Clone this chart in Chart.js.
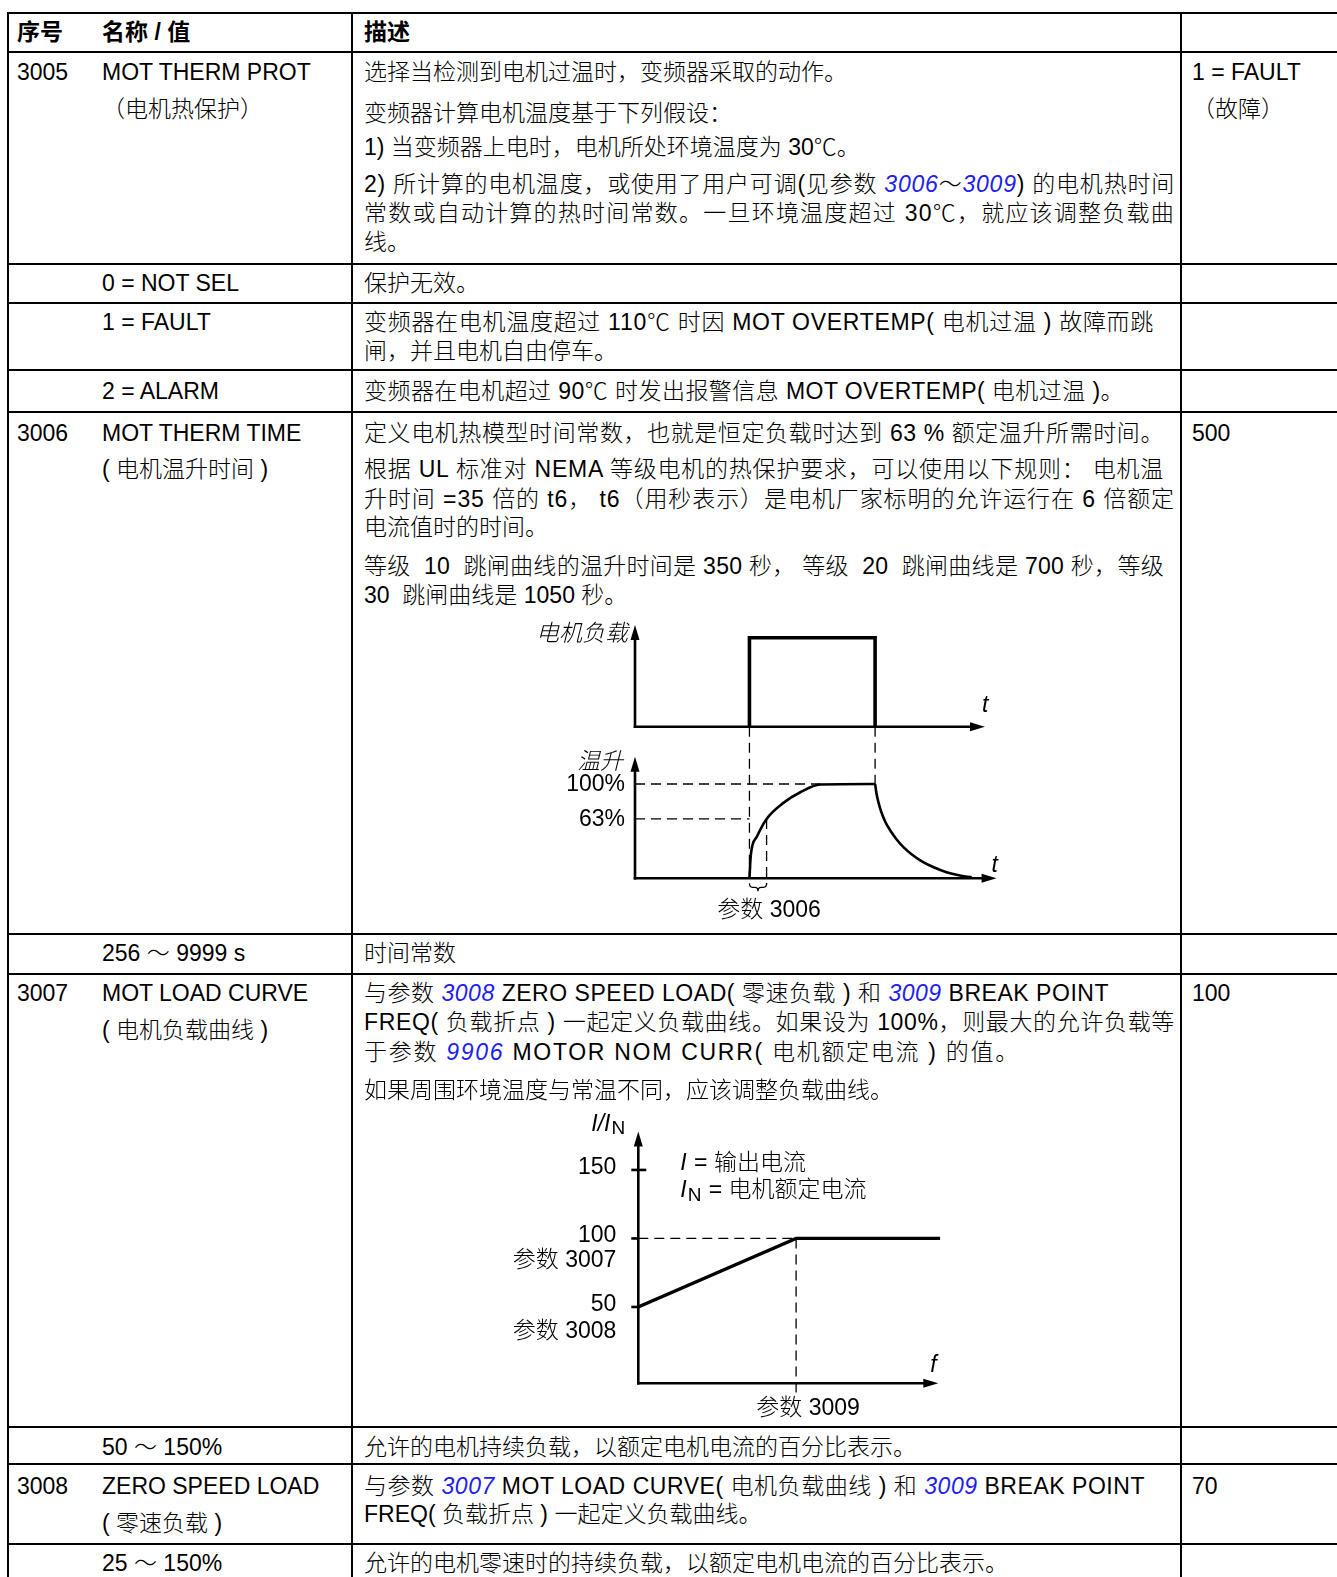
<!DOCTYPE html>
<html>
<head>
<meta charset="utf-8">
<script src="https://cdn.jsdelivr.net/npm/chart.js@4.4.0/dist/chart.umd.min.js"></script>
<style>
  body {
    margin: 0;
    background: #fff;
    width: 1337px;
    height: 1577px;
    overflow: hidden;
    position: relative;
    font-family: "Liberation Sans", Arial, "Noto Sans CJK SC", sans-serif;
    font-size: 23px;
    font-weight: 300;
    color: #000;
  }
  .t { position: absolute; white-space: pre; line-height: 30px; height: 30px; }
  .b { font-weight: bold; }
  .lk { color: #2020f0; font-style: italic; }
  .h { position: absolute; left: 7px; right: 0; height: 2px; background: #000; }
  .v { position: absolute; top: 12px; bottom: 0; width: 2px; background: #000; }
  canvas { position: absolute; }
</style>
</head>
<body>
<canvas id="thermChart" width="520" height="310" style="left:500px;top:612px"></canvas>
<canvas id="loadChart" width="470" height="320" style="left:490px;top:1100px"></canvas>
<script>
// Diagram 3006: motor load step and temperature rise
const loadT = [32.7, 32.7, 68.6, 68.6];
const loadLevel = [0, 1, 1, 0];
const riseT = [32.7, 33.1, 34.8, 37.6, 42.4, 47.1, 52.9, 68.6];
const riseTemp = [0, 25, 44, 63, 80, 91, 99.5, 100];
const fallT = [68.6, 69.0, 69.6, 70.4, 71.5, 72.9, 74.6, 76.7, 79.2, 82.2, 85.5, 89.0, 92.5, 96.2];
const fallTemp = [100, 90, 80, 70, 60, 51, 42, 33, 25, 17.5, 11.5, 6.5, 3.2, 1];
const tempTicks = [63, 100];
const tauT = 37.6;

// Diagram 3007: load curve
const curveF = [0, 52.6, 100.6];
const curveI = [50, 100, 100];
const currentTicks = [50, 100, 150];
const breakF = 52.6;

const FONT = '"Liberation Sans", Arial, "Noto Sans CJK SC", sans-serif';

// table text lines: x, centre y, html, justified width
const X1 = 17, X2 = 102, X3 = 364, X4 = 1192;
const lines = [
  [X1, 32, '序号', 0, 'b'],
  [X2, 32, '名称 / 值', 0, 'b'],
  [X3, 32, '描述', 0, 'b'],
  [X1, 72, '3005'],
  [X2, 72, 'MOT THERM PROT'],
  [X2, 109, '（电机热保护）'],
  [X3, 72, '选择当检测到电机过温时，变频器采取的动作。'],
  [X3, 113, '变频器计算电机温度基于下列假设：'],
  [X3, 147, '1) 当变频器上电时，电机所处环境温度为 30℃。'],
  [X3, 184, '2) 所计算的电机温度，或使用了用户可调(见参数 <i class="lk">3006</i>～<i class="lk">3009</i>) 的电机热时间', 811],
  [X3, 213, '常数或自动计算的热时间常数。一旦环境温度超过 30℃，就应该调整负载曲', 811],
  [X3, 242, '线。'],
  [X4, 72, '1 = FAULT'],
  [X4, 109, '（故障）'],
  [X2, 283, '0 = NOT SEL'],
  [X3, 283, '保护无效。'],
  [X2, 322, '1 = FAULT'],
  [X3, 322, '变频器在电机温度超过 110℃ 时因 MOT OVERTEMP( 电机过温 ) 故障而跳', 790],
  [X3, 351, '闸，并且电机自由停车。'],
  [X2, 391, '2 = ALARM'],
  [X3, 391, '变频器在电机超过 90℃ 时发出报警信息 MOT OVERTEMP( 电机过温 )。', 760],
  [X1, 433, '3006'],
  [X2, 433, 'MOT THERM TIME'],
  [X2, 469, '( 电机温升时间 )'],
  [X4, 433, '500'],
  [X3, 433, '定义电机热模型时间常数，也就是恒定负载时达到 63 % 额定温升所需时间。', 800],
  [X3, 469, '根据 UL 标准对 NEMA 等级电机的热保护要求，可以使用以下规则： 电机温', 800],
  [X3, 499, '升时间 =35 倍的 t6， t6（用秒表示）是电机厂家标明的允许运行在 6 倍额定', 811],
  [X3, 527, '电流值时的时间。'],
  [X3, 566, '等级  10  跳闸曲线的温升时间是 350 秒， 等级  20  跳闸曲线是 700 秒，等级', 800],
  [X3, 595, '30  跳闸曲线是 1050 秒。'],
  [X2, 953, '256 ～ 9999 s'],
  [X3, 953, '时间常数'],
  [X1, 993, '3007'],
  [X2, 993, 'MOT LOAD CURVE'],
  [X2, 1030, '( 电机负载曲线 )'],
  [X4, 993, '100'],
  [X3, 993, '与参数 <i class="lk">3008</i> ZERO SPEED LOAD( 零速负载 ) 和 <i class="lk">3009</i> BREAK POINT', 745],
  [X3, 1022, 'FREQ( 负载折点 ) 一起定义负载曲线。如果设为 100%，则最大的允许负载等', 811],
  [X3, 1052, '于参数 <i class="lk">9906</i> MOTOR NOM CURR( 电机额定电流 ) 的值。', 656],
  [X3, 1090, '如果周围环境温度与常温不同，应该调整负载曲线。'],
  [X2, 1447, '50 ～ 150%'],
  [X3, 1447, '允许的电机持续负载，以额定电机电流的百分比表示。'],
  [X1, 1486, '3008'],
  [X2, 1486, 'ZERO SPEED LOAD'],
  [X2, 1523, '( 零速负载 )'],
  [X4, 1486, '70'],
  [X3, 1486, '与参数 <i class="lk">3007</i> MOT LOAD CURVE( 电机负载曲线 ) 和 <i class="lk">3009</i> BREAK POINT', 781],
  [X3, 1514, 'FREQ( 负载折点 ) 一起定义负载曲线。'],
  [X2, 1563, '25 ～ 150%'],
  [X3, 1563, '允许的电机零速时的持续负载，以额定电机电流的百分比表示。'],
];
const rulesY = [12.5, 52.3, 263.5, 303, 370, 411.5, 933.5, 974, 1426.7, 1464, 1544];
const rulesX = [8, 351.5, 1181];

rulesY.forEach((y) => {
  const d = document.createElement("div");
  d.className = "h";
  d.style.top = y - 1 + "px";
  document.body.appendChild(d);
});
rulesX.forEach((x) => {
  const d = document.createElement("div");
  d.className = "v";
  d.style.left = x - 1 + "px";
  document.body.appendChild(d);
});
lines.forEach(([x, y, html, w, cls]) => {
  const d = document.createElement("div");
  d.className = "t" + (cls ? " " + cls : "");
  d.style.left = x + "px";
  d.style.top = y - 15 + "px";
  d.innerHTML = html;
  document.body.appendChild(d);
  if (w) {
    // stretch the line to the justified width of the reference
    const nat = d.getBoundingClientRect().width;
    const n = [...d.textContent].length;
    d.style.letterSpacing = (w - nat) / n + "px";
  }
});

// small drawing helpers
function seg(ctx, x1, y1, x2, y2) {
  ctx.beginPath();
  ctx.moveTo(x1, y1);
  ctx.lineTo(x2, y2);
  ctx.stroke();
}
function arrowUp(ctx, x, y) {
  ctx.beginPath();
  ctx.moveTo(x, y);
  ctx.lineTo(x - 4.5, y + 15);
  ctx.lineTo(x + 4.5, y + 15);
  ctx.closePath();
  ctx.fill();
}
function arrowRight(ctx, x, y) {
  ctx.beginPath();
  ctx.moveTo(x, y);
  ctx.lineTo(x - 15, y - 4.5);
  ctx.lineTo(x - 15, y + 4.5);
  ctx.closePath();
  ctx.fill();
}
function label(ctx, text, x, y, align, style) {
  ctx.font = (style || "") + " 300 23px " + FONT;
  ctx.textAlign = align || "left";
  ctx.textBaseline = "middle";
  ctx.fillText(text, x, y);
  return ctx.measureText(text).width;
}
const pts = (xs, ys) => xs.map((x, i) => ({ x: x, y: ys[i] }));

// axes, guides and labels of the 3006 diagram
const thermAxes = {
  id: "thermAxes",
  beforeDatasetsDraw(chart) {
    const { ctx, scales: { x, yTemp, yLoad } } = chart;
    const x0 = x.getPixelForValue(0);
    const yl0 = yLoad.getPixelForValue(0);
    const yt0 = yTemp.getPixelForValue(0);
    ctx.save();
    ctx.strokeStyle = "#000";
    ctx.fillStyle = "#000";
    ctx.lineWidth = 2.6;
    const upTip = yLoad.getPixelForValue(1.143);
    seg(ctx, x0, yl0 + 1.3, x0, upTip + 10);
    arrowUp(ctx, x0, upTip);
    const upEnd = x.getPixelForValue(100);
    seg(ctx, x0 - 1.3, yl0, upEnd - 10, yl0);
    arrowRight(ctx, upEnd, yl0);
    const lowTip = yTemp.getPixelForValue(129);
    seg(ctx, x0, yt0 + 1.3, x0, lowTip + 10);
    arrowUp(ctx, x0, lowTip);
    const lowEnd = x.getPixelForValue(103.3);
    seg(ctx, x0 - 1.3, yt0, lowEnd - 10, yt0);
    arrowRight(ctx, lowEnd, yt0);

    // dashed guides
    ctx.lineWidth = 1.3;
    ctx.setLineDash([10, 6]);
    const xOn = x.getPixelForValue(loadT[0]);
    const xOff = x.getPixelForValue(loadT[3]);
    const xTau = x.getPixelForValue(tauT);
    const y100 = yTemp.getPixelForValue(100);
    const y63 = yTemp.getPixelForValue(63);
    seg(ctx, xOn, yl0, xOn, yt0);
    seg(ctx, xOff, yl0, xOff, y100);
    seg(ctx, x0, y100, x.getPixelForValue(53), y100);
    seg(ctx, x0, y63, xOn, y63);
    seg(ctx, xTau, y63, xTau, yt0 + 6);
    ctx.setLineDash([]);

    // brace under the time constant
    const ym = yt0 + 5;
    const xm = (xOn + xTau) / 2;
    ctx.beginPath();
    ctx.moveTo(xOn, ym);
    ctx.quadraticCurveTo(xOn, ym + 4, xOn + 3, ym + 4);
    ctx.lineTo(xm - 3, ym + 4);
    ctx.quadraticCurveTo(xm, ym + 4, xm, ym + 8);
    ctx.quadraticCurveTo(xm, ym + 4, xm + 3, ym + 4);
    ctx.lineTo(xTau - 3, ym + 4);
    ctx.quadraticCurveTo(xTau, ym + 4, xTau, ym);
    ctx.stroke();
    ctx.restore();
  },
  afterDraw(chart) {
    const { ctx, scales: { x, yTemp, yLoad } } = chart;
    const x0 = x.getPixelForValue(0);
    const yl0 = yLoad.getPixelForValue(0);
    const yt0 = yTemp.getPixelForValue(0);
    ctx.save();
    ctx.fillStyle = "#000";
    label(ctx, "电机负载", x0 - 7, yLoad.getPixelForValue(1.143) + 10, "right", "italic");
    label(ctx, "t", x.getPixelForValue(100) - 3, yl0 - 21, "left", "italic");
    label(ctx, "温升", x0 - 12, yTemp.getPixelForValue(129) + 6, "right", "italic");
    tempTicks.forEach((v) => label(ctx, v + "%", x0 - 10, yTemp.getPixelForValue(v) + 1, "right"));
    label(ctx, "t", x.getPixelForValue(103.3) - 5, yt0 - 13, "left", "italic");
    const xm = (x.getPixelForValue(loadT[0]) + x.getPixelForValue(tauT)) / 2;
    label(ctx, "参数 3006", xm + 11, yt0 + 32, "center");
    ctx.restore();
  },
};

// axes, guides and labels of the 3007 diagram
const loadAxes = {
  id: "loadAxes",
  beforeDatasetsDraw(chart) {
    const { ctx, scales: { x, y } } = chart;
    const x0 = x.getPixelForValue(0);
    const yb = chart.chartArea.bottom;
    ctx.save();
    ctx.strokeStyle = "#000";
    ctx.fillStyle = "#000";
    ctx.lineWidth = 2.6;
    const tip = y.getPixelForValue(178);
    seg(ctx, x0, yb + 1.3, x0, tip + 10);
    arrowUp(ctx, x0, tip);
    const end = x.getPixelForValue(100);
    seg(ctx, x0 - 1.3, yb, end - 10, yb);
    arrowRight(ctx, end, yb);
    currentTicks.forEach((v) => {
      const py = y.getPixelForValue(v);
      seg(ctx, x0 - 7, py, v === 150 ? x0 + 8 : x0, py);
    });
    ctx.lineWidth = 1.3;
    ctx.setLineDash([10, 6]);
    const xb = x.getPixelForValue(breakF);
    const y100 = y.getPixelForValue(100);
    seg(ctx, x0, y100, xb, y100);
    seg(ctx, xb, y100, xb, yb + 10);
    ctx.restore();
  },
  afterDraw(chart) {
    const { ctx, scales: { x, y } } = chart;
    const x0 = x.getPixelForValue(0);
    const yb = chart.chartArea.bottom;
    ctx.save();
    ctx.fillStyle = "#000";
    const tip = y.getPixelForValue(178);
    let w = label(ctx, "I/I", x0 - 47, tip - 7, "left", "italic");
    ctx.font = "19px " + FONT;
    ctx.textAlign = "left";
    ctx.fillText("N", x0 - 47 + w + 1, tip - 3);
    currentTicks.forEach((v) => label(ctx, String(v), x0 - 22, y.getPixelForValue(v) - 2.5, "right"));
    label(ctx, "参数 3007", x0 - 22, y.getPixelForValue(100) + 22, "right");
    label(ctx, "参数 3008", x0 - 22, y.getPixelForValue(50) + 25, "right");
    label(ctx, "f", x.getPixelForValue(100) - 8, yb - 18, "left", "italic");
    label(ctx, "参数 3009", x.getPixelForValue(breakF) + 12, yb + 25, "center");
    const lx = x0 + 42;
    const ly1 = y.getPixelForValue(150) - 6;
    w = label(ctx, "I", lx, ly1, "left", "italic");
    label(ctx, " = 输出电流", lx + w + 1, ly1, "left");
    const ly2 = ly1 + 27;
    w = label(ctx, "I", lx, ly2, "left", "italic");
    ctx.font = "19px " + FONT;
    ctx.fillText("N", lx + w + 1, ly2 + 5);
    const wn = ctx.measureText("N").width;
    label(ctx, " = 电机额定电流", lx + w + wn + 2, ly2, "left");
    ctx.restore();
  },
};

new Chart(document.getElementById("thermChart").getContext("2d"), {
  type: "line",
  data: {
    datasets: [
      {
        data: pts(loadT, loadLevel),
        yAxisID: "yLoad",
        borderColor: "#000",
        borderWidth: 3.6,
        borderJoinStyle: "miter",
        pointRadius: 0,
        tension: 0,
      },
      {
        data: pts(riseT, riseTemp),
        yAxisID: "yTemp",
        borderColor: "#000",
        borderWidth: 2.6,
        pointRadius: 0,
        cubicInterpolationMode: "monotone",
      },
      {
        data: pts(fallT, fallTemp),
        yAxisID: "yTemp",
        borderColor: "#000",
        borderWidth: 2.6,
        pointRadius: 0,
        cubicInterpolationMode: "monotone",
      },
    ],
  },
  options: {
    responsive: false,
    animation: false,
    events: [],
    layout: { padding: { left: 135, right: 20, top: 8, bottom: 43.7 } },
    plugins: { legend: { display: false }, tooltip: { enabled: false } },
    scales: {
      x: { type: "linear", min: 0, max: 104.29, display: false },
      yTemp: { type: "linear", min: 0, max: 273.9, display: false },
      yLoad: { type: "linear", min: -1.7034, max: 1.1989, display: false },
    },
  },
  plugins: [thermAxes],
});

new Chart(document.getElementById("loadChart").getContext("2d"), {
  type: "line",
  data: {
    datasets: [
      {
        data: pts(curveF, curveI),
        borderColor: "#000",
        borderWidth: 3.2,
        pointRadius: 0,
        tension: 0,
      },
    ],
  },
  options: {
    responsive: false,
    animation: false,
    events: [],
    layout: { padding: { left: 148.3, right: 10, top: 25, bottom: 36.7 } },
    plugins: { legend: { display: false }, tooltip: { enabled: false } },
    scales: {
      x: { type: "linear", min: 0, max: 103.9, display: false },
      y: { type: "linear", min: -5.7, max: 182.8, display: false },
    },
  },
  plugins: [loadAxes],
});
</script>
</body>
</html>
